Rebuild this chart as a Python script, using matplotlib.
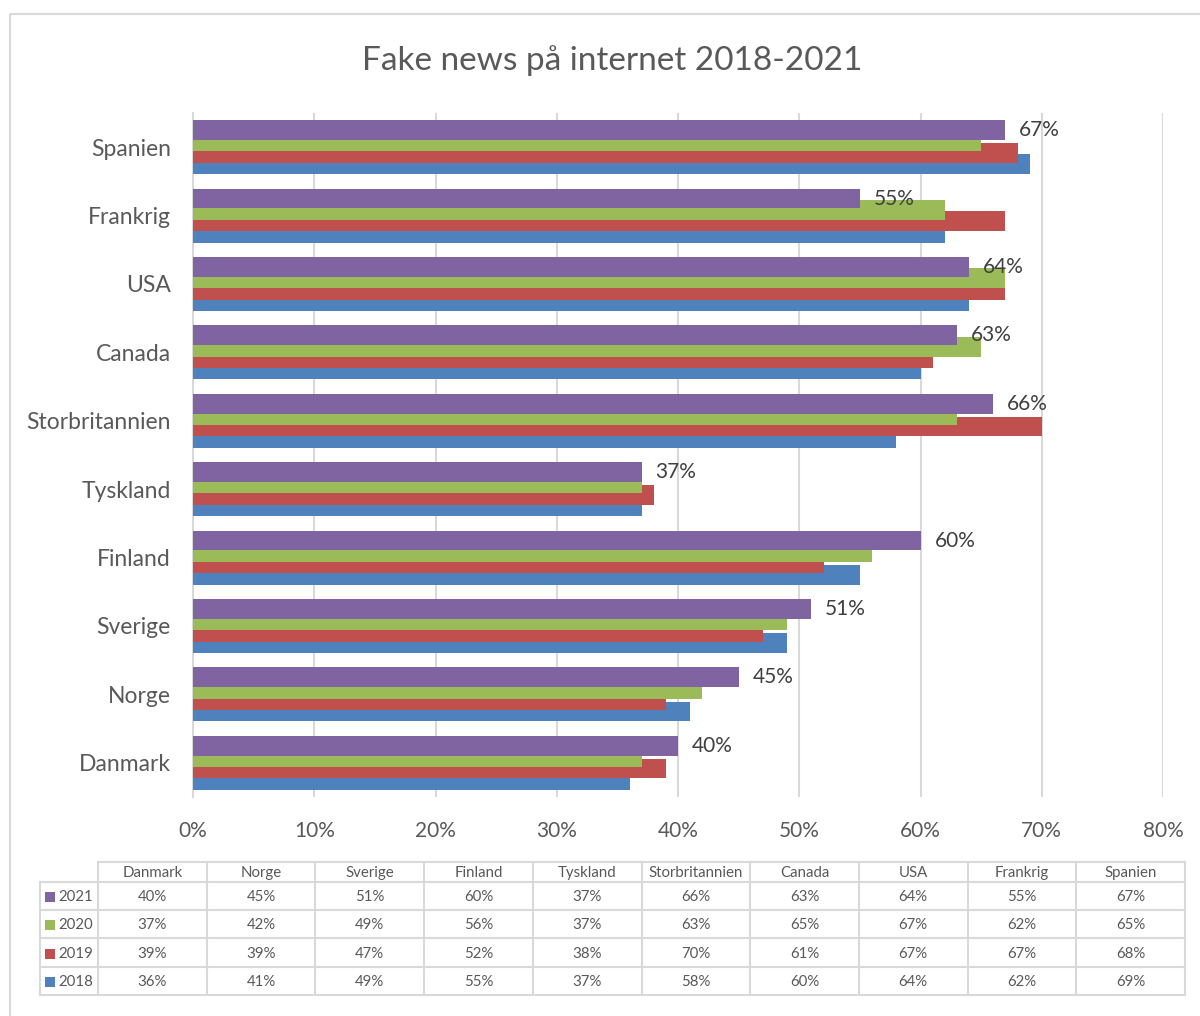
import matplotlib
matplotlib.use("Agg")
import matplotlib.pyplot as plt
from matplotlib.patches import Rectangle
import numpy as np

# Data
countries = ["Danmark", "Norge", "Sverige", "Finland", "Tyskland",
             "Storbritannien", "Canada", "USA", "Frankrig", "Spanien"]
years = ["2018", "2019", "2020", "2021"]
v2018 = [36, 41, 49, 55, 37, 58, 60, 64, 62, 69]
v2019 = [39, 39, 47, 52, 38, 70, 61, 67, 67, 68]
v2020 = [37, 42, 49, 56, 37, 63, 65, 67, 62, 65]
v2021 = [40, 45, 51, 60, 37, 66, 63, 64, 55, 67]
x_ticks = [0, 10, 20, 30, 40, 50, 60, 70, 80]
title = "Fake news på internet 2018-2021"

series = [v2018, v2019, v2020, v2021]
colors = ["#4F81BD", "#C0504D", "#9BBB59", "#8064A2"]

FONT = "Lato"
plt.rcParams["font.family"] = [FONT, "DejaVu Sans"]
GRID = "#D9D9D9"
TXT = "#595959"

W, H = 1200, 1016
fig = plt.figure(figsize=(W / 100, H / 100), dpi=100)

# Main bar chart area (pixel bounds of plot area)
px_l, px_r, px_t, px_b = 193, 1163, 113, 797
ax = fig.add_axes([px_l / W, 1 - px_b / H, (px_r - px_l) / W, (px_b - px_t) / H])

y = np.arange(len(countries))
bar_h = 0.29
step = 0.166
for i, vals in enumerate(series):
    ax.barh(y + (i - 1.5) * step, vals, height=bar_h, color=colors[i],
            zorder=3 + i, linewidth=0)

# Value labels for the latest year
for yi, v in zip(y, v2021):
    ax.annotate(f"{v}%", xy=(v, yi + 1.5 * step), xytext=(10, 0),
                textcoords="offset points", ha="left", va="center",
                fontsize=15, color="#404040", zorder=10)

ax.set_xlim(0, 80)
ax.set_ylim(-0.5, len(countries) - 0.5)
ax.set_xticks(x_ticks)
ax.set_xticklabels([f"{t}%" for t in x_ticks])
ax.set_yticks(y)
ax.set_yticklabels(countries)
ax.tick_params(axis="x", length=0, pad=17, labelsize=15, labelcolor=TXT)
ax.tick_params(axis="y", length=0, pad=16, labelsize=16.5, labelcolor=TXT)
ax.xaxis.grid(True, color=GRID, linewidth=1.5, zorder=0)
ax.set_axisbelow(True)
for s in ["top", "right", "bottom"]:
    ax.spines[s].set_visible(False)
ax.spines["left"].set_color(GRID)
ax.spines["left"].set_linewidth(1.5)
ax.spines["left"].set_zorder(2)

# Overlay in pixel coordinates for frame, title and data table
ov = fig.add_axes([0, 0, 1, 1], zorder=-1)
ov.set_xlim(0, W)
ov.set_ylim(H, 0)
ov.axis("off")
ov.patch.set_visible(False)

ov.add_patch(Rectangle((10, 14), W + 20, H + 20, fill=False,
                       edgecolor=GRID, linewidth=1.5))
ov.text(W / 2 + 12, 61, title, ha="center", va="center", fontsize=24, color=TXT)

# Data table
col_x = np.linspace(98, 1185, len(countries) + 1)
leg_l = 40
row_y = [862, 882, 910, 938, 967, 995]
lc = GRID
lw = 1.5
ov.plot([col_x[0], col_x[-1]], [row_y[0], row_y[0]], color=lc, lw=lw)
for ry in row_y[1:]:
    ov.plot([leg_l, col_x[-1]], [ry, ry], color=lc, lw=lw)
ov.plot([leg_l, leg_l], [row_y[1], row_y[-1]], color=lc, lw=lw)
for cx in col_x:
    ov.plot([cx, cx], [row_y[0], row_y[-1]], color=lc, lw=lw)

tfs = 10.8
for j, name in enumerate(countries):
    cx = (col_x[j] + col_x[j + 1]) / 2
    ov.text(cx, (row_y[0] + row_y[1]) / 2 + 1, name, ha="center", va="center",
            fontsize=tfs, color=TXT)

table_order = [3, 2, 1, 0]  # 2021 first
for r, si in enumerate(table_order):
    cy = (row_y[r + 1] + row_y[r + 2]) / 2 + 1
    ov.add_patch(Rectangle((45, cy - 5), 10, 10, color=colors[si], linewidth=0))
    ov.text(58, cy, years[si], ha="left", va="center", fontsize=tfs, color=TXT)
    for j, v in enumerate(series[si]):
        cx = (col_x[j] + col_x[j + 1]) / 2
        ov.text(cx, cy, f"{v}%", ha="center", va="center", fontsize=tfs, color=TXT)

fig.savefig("out.png", dpi=100, facecolor="white")
